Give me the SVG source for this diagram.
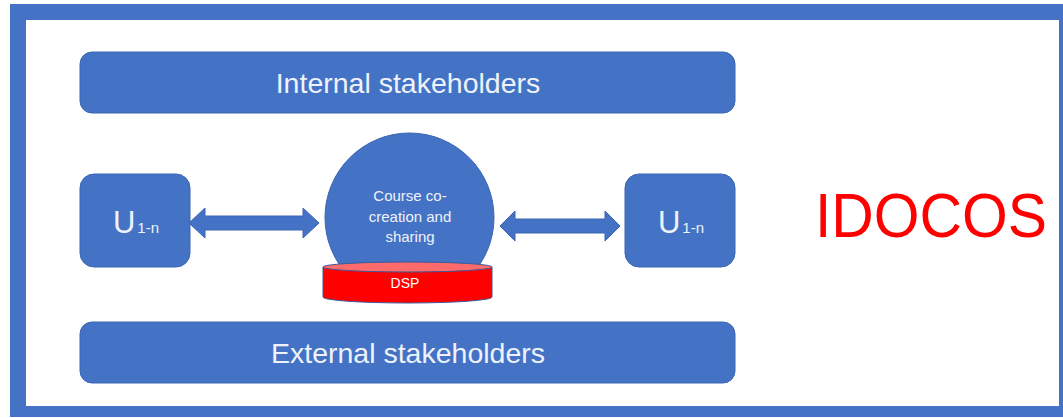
<svg xmlns="http://www.w3.org/2000/svg" width="1063" height="418" viewBox="0 0 1063 418">
  <style>
    .blue { fill: #4472C4; stroke: #3b66b3; stroke-width: 1; }
    .lbl { font-family: "Liberation Sans", Arial, sans-serif; fill: #eef2fa; text-anchor: middle; }
    .conn { fill: #4472C4; stroke: #3b66b3; stroke-width: 1; }
  </style>
  <rect x="0" y="0" width="1063" height="418" fill="#ffffff"/>
  <g id="frame">
    <rect x="10" y="4" width="1053" height="413" fill="#4472C4"/>
    <rect x="26" y="20" width="1033" height="386" fill="#ffffff"/>
  </g>
  <g id="internal">
    <rect class="blue" x="80" y="52" width="655" height="61" rx="12"/>
    <text class="lbl" x="408" y="93" font-size="28.5">Internal stakeholders</text>
  </g>
  <g id="external">
    <rect class="blue" x="80" y="322" width="655" height="61" rx="12"/>
    <text class="lbl" x="408" y="363" font-size="28.5">External stakeholders</text>
  </g>
  <g id="u-left">
    <rect class="blue" x="80" y="174" width="110" height="93" rx="14"/>
    <text class="lbl" x="136" y="233" font-size="31">U<tspan font-size="15" dx="2">1-n</tspan></text>
  </g>
  <g id="u-right">
    <rect class="blue" x="625" y="174" width="110" height="93" rx="14"/>
    <text class="lbl" x="681" y="233" font-size="31">U<tspan font-size="15" dx="2">1-n</tspan></text>
  </g>
  <g id="course">
    <circle class="blue" cx="409.5" cy="217.5" r="84.5"/>
    <text class="lbl" x="410" y="201" font-size="15">Course co-</text>
    <text class="lbl" x="410" y="222" font-size="15">creation and</text>
    <text class="lbl" x="410" y="242" font-size="15">sharing</text>
  </g>
  <g id="dsp">
    <path d="M323,267 L323,297 A84.5,6 0 0 0 492,297 L492,267 Z" fill="#ff0000" stroke="#3b5a9a" stroke-width="1"/>
    <ellipse cx="407.5" cy="267" rx="84.5" ry="5" fill="#ff6b6b" stroke="#3b5a9a" stroke-width="1"/>
    <text class="lbl" x="405" y="288" font-size="14" style="fill:#ffffff">DSP</text>
  </g>
  <g id="connectors">
    <polygon class="conn" points="189,223 205,208 205,216 303,216 303,208 319,223 303,238 303,230 205,230 205,238"/>
    <polygon class="conn" points="500,226 515,211 515,219 605,219 605,211 620,226 605,241 605,233 515,233 515,241"/>
  </g>
  <g id="idocos">
    <text x="815" y="237" font-family="Liberation Sans, Arial, sans-serif" font-size="63" fill="#ff0000" textLength="232" lengthAdjust="spacingAndGlyphs">IDOCOS</text>
  </g>
</svg>
